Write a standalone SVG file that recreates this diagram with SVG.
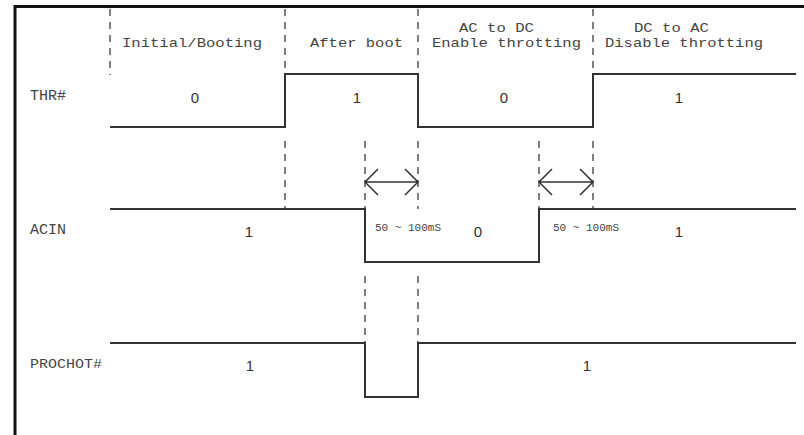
<svg xmlns="http://www.w3.org/2000/svg" width="804" height="435" viewBox="0 0 804 435">
<style>
.bg{fill:#fff}
.frame{fill:none;stroke:#111;stroke-width:3}
.wave{fill:none;stroke:#333;stroke-width:2}
.dash{fill:none;stroke:#555;stroke-width:1.5;stroke-dasharray:7 6}
.arr{fill:none;stroke:#333;stroke-width:1.5}
.mono{font-family:"Liberation Mono","Courier New",monospace;fill:#444}
.hdr{font-size:13.5px}
.lbl{font-size:14px}
.small{font-size:11px}
.val{font-family:"Liberation Sans",Arial,sans-serif;font-size:15px;fill:#333;text-anchor:middle}
</style>
<rect class="bg" x="0" y="0" width="804" height="435"/>
<path class="frame" d="M15 435 V6.5 H804"/>

<g id="headers">
<text class="mono hdr" x="122" y="47" textLength="140" lengthAdjust="spacingAndGlyphs">Initial/Booting</text>
<text class="mono hdr" x="310" y="47" textLength="93" lengthAdjust="spacingAndGlyphs">After boot</text>
<text class="mono hdr" x="459" y="32" textLength="75" lengthAdjust="spacingAndGlyphs">AC to DC</text>
<text class="mono hdr" x="432" y="47" textLength="149" lengthAdjust="spacingAndGlyphs">Enable throtting</text>
<text class="mono hdr" x="634" y="32" textLength="75" lengthAdjust="spacingAndGlyphs">DC to AC</text>
<text class="mono hdr" x="605" y="47" textLength="158" lengthAdjust="spacingAndGlyphs">Disable throtting</text>
</g>

<g id="guides">
<path class="dash" d="M110 9 V75"/>
<path class="dash" d="M285 9 V74 M285 141 V209"/>
<path class="dash" d="M418 9 V74 M418 141 V209 M418 276 V343"/>
<path class="dash" d="M365 141 V209 M365 276 V343"/>
<path class="dash" d="M539 141 V209"/>
<path class="dash" d="M593 9 V74 M593 141 V209"/>
</g>

<g id="THR">
<text class="mono lbl" x="30" y="100" textLength="36" lengthAdjust="spacingAndGlyphs">THR#</text>
<path class="wave" d="M110 127 H285 V74 H418 V127 H593 V74 H796"/>
<text class="val" x="195" y="103">0</text>
<text class="val" x="357" y="103">1</text>
<text class="val" x="504" y="103">0</text>
<text class="val" x="679" y="103">1</text>
</g>

<g id="ACIN">
<text class="mono lbl" x="30" y="234" textLength="36" lengthAdjust="spacingAndGlyphs">ACIN</text>
<path class="wave" d="M110 209 H365 V262 H539 V209 H796"/>
<text class="val" x="249" y="237">1</text>
<text class="val" x="478" y="237">0</text>
<text class="val" x="679" y="237">1</text>
<text class="mono small" x="375" y="231">50 ~ 100mS</text>
<text class="mono small" x="553" y="231">50 ~ 100mS</text>
</g>

<g id="PROCHOT">
<text class="mono" font-size="13" x="30" y="368" textLength="72" lengthAdjust="spacingAndGlyphs">PROCHOT#</text>
<path class="wave" d="M110 343 H365 V397 H418 V343 H796"/>
<text class="val" x="250" y="371">1</text>
<text class="val" x="587" y="371">1</text>
</g>

<g id="connectors">
<path class="arr" d="M365 182 H418 M378 169 L365 182 L378 195 M405 169 L418 182 L405 195"/>
<path class="arr" d="M539 182 H593 M552 169 L539 182 L552 195 M580 169 L593 182 L580 195"/>
</g>
</svg>
